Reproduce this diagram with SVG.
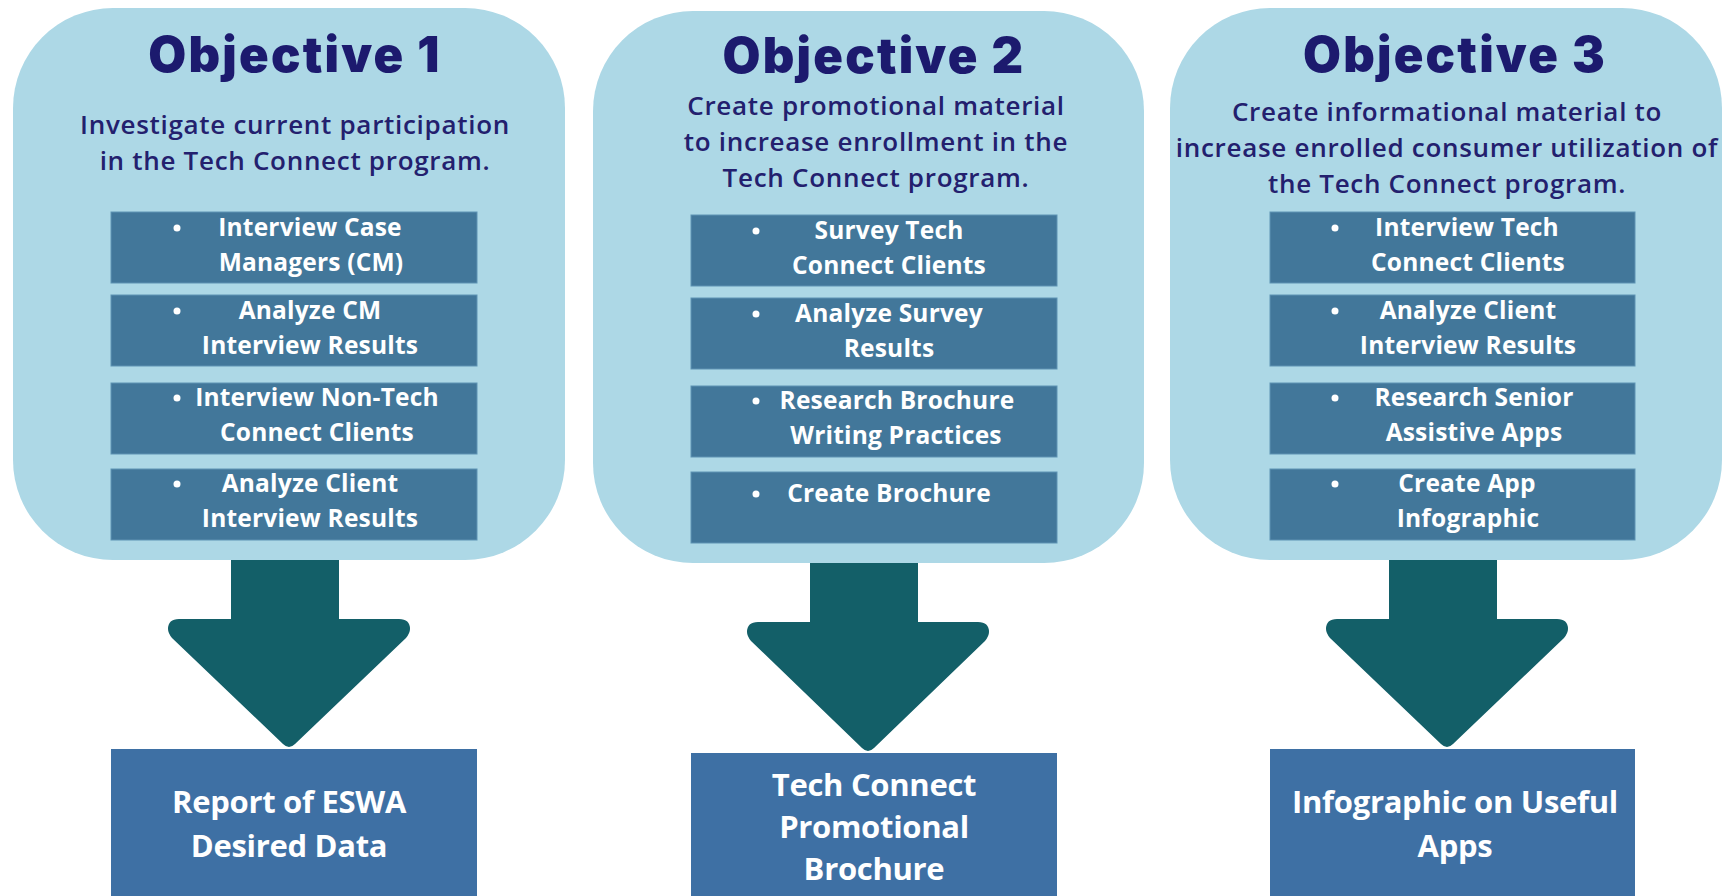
<svg xmlns="http://www.w3.org/2000/svg" width="1728" height="896" viewBox="0 0 1728 896">
<style>
.panel{fill:#ADD8E6;}
.task{fill:#42779A;stroke:#5E93B3;stroke-width:1;}
.out{fill:#3E70A4;}
.arrow{fill:#135F68;}
.title{font-family:Inter,"Liberation Sans",Arial,sans-serif;font-weight:900;font-size:49px;fill:#1C1A6E;text-anchor:middle;letter-spacing:2.2px;}
.sub{font-family:"Open Sans","Noto Sans","Liberation Sans",sans-serif;font-weight:600;font-size:26px;fill:#23206E;text-anchor:middle;letter-spacing:0.7px;}
.tt{font-family:"Open Sans","Noto Sans","Liberation Sans",sans-serif;font-weight:700;font-size:24.5px;fill:#FFFFFF;text-anchor:middle;letter-spacing:0.2px;}
.ot{font-family:"Open Sans","Noto Sans","Liberation Sans",sans-serif;font-weight:700;font-size:31px;fill:#FFFFFF;text-anchor:middle;letter-spacing:-0.3px;}
.dot{fill:#FFFFFF;}
</style>
<rect width="1728" height="896" fill="#FFFFFF"/>
<g id="connectors">
<path class="arrow" d="M231,550 L339,550 L339,619 L399,619 Q410,619 410,629 Q410,633 406,638 L295,744 Q289,750 283,744 L172,638 Q168,633 168,629 Q168,619 179,619 L231,619 Z"/>
<path class="arrow" d="M810,553 L918,553 L918,622 L978,622 Q989,622 989,632 Q989,636 985,641 L874,748 Q868,754 862,748 L751,641 Q747,636 747,632 Q747,622 758,622 L810,622 Z"/>
<path class="arrow" d="M1389,550 L1497,550 L1497,619 L1557,619 Q1568,619 1568,629 Q1568,633 1564,638 L1453,744 Q1447,750 1441,744 L1330,638 Q1326,633 1326,629 Q1326,619 1337,619 L1389,619 Z"/>
</g>
<g id="objective1">
<rect class="panel" x="13" y="8" width="552" height="552" rx="100"/>
<text class="title" x="295" y="72">Objective 1</text>
<text class="sub" x="295" y="134">Investigate current participation</text>
<text class="sub" x="295" y="170">in the Tech Connect program.</text>
</g>
<g id="task1a"><rect class="task" x="111" y="212" width="366" height="71"/><circle class="dot" cx="177" cy="228" r="3.5"/><text class="tt" x="310" y="236">Interview Case</text><text class="tt" x="311" y="271">Managers (CM)</text></g>
<g id="task1b"><rect class="task" x="111" y="295" width="366" height="71"/><circle class="dot" cx="177" cy="311" r="3.5"/><text class="tt" x="310" y="319">Analyze CM</text><text class="tt" x="310" y="354">Interview Results</text></g>
<g id="task1c"><rect class="task" x="111" y="383" width="366" height="71"/><circle class="dot" cx="177" cy="398" r="3.5"/><text class="tt" x="317" y="406">Interview Non-Tech</text><text class="tt" x="317" y="441">Connect Clients</text></g>
<g id="task1d"><rect class="task" x="111" y="469" width="366" height="71"/><circle class="dot" cx="177" cy="484" r="3.5"/><text class="tt" x="310" y="492">Analyze Client</text><text class="tt" x="310" y="527">Interview Results</text></g>
<g id="objective2">
<rect class="panel" x="593" y="11" width="551" height="552" rx="100"/>
<text class="title" x="874" y="73">Objective 2</text>
<text class="sub" x="876" y="115">Create promotional material</text>
<text class="sub" x="876" y="151">to increase enrollment in the</text>
<text class="sub" x="876" y="187">Tech Connect program.</text>
</g>
<g id="task2a"><rect class="task" x="691" y="215" width="366" height="71"/><circle class="dot" cx="756" cy="231" r="3.5"/><text class="tt" x="889" y="239">Survey Tech</text><text class="tt" x="889" y="274">Connect Clients</text></g>
<g id="task2b"><rect class="task" x="691" y="298" width="366" height="71"/><circle class="dot" cx="756" cy="314" r="3.5"/><text class="tt" x="889" y="322">Analyze Survey</text><text class="tt" x="889" y="357">Results</text></g>
<g id="task2c"><rect class="task" x="691" y="386" width="366" height="71"/><circle class="dot" cx="756" cy="401" r="3.5"/><text class="tt" x="897" y="409">Research Brochure</text><text class="tt" x="896" y="444">Writing Practices</text></g>
<g id="task2d"><rect class="task" x="691" y="472" width="366" height="71"/><circle class="dot" cx="756" cy="494" r="3.5"/><text class="tt" x="889" y="502">Create Brochure</text></g>
<g id="objective3">
<rect class="panel" x="1170" y="8" width="552" height="552" rx="100"/>
<text class="title" x="1455" y="72">Objective 3</text>
<text class="sub" x="1447" y="121">Create informational material to</text>
<text class="sub" x="1447" y="157">increase enrolled consumer utilization of</text>
<text class="sub" x="1447" y="193">the Tech Connect program.</text>
</g>
<g id="task3a"><rect class="task" x="1270" y="212" width="365" height="71"/><circle class="dot" cx="1335" cy="228" r="3.5"/><text class="tt" x="1467" y="236">Interview Tech</text><text class="tt" x="1468" y="271">Connect Clients</text></g>
<g id="task3b"><rect class="task" x="1270" y="295" width="365" height="71"/><circle class="dot" cx="1335" cy="311" r="3.5"/><text class="tt" x="1468" y="319">Analyze Client</text><text class="tt" x="1468" y="354">Interview Results</text></g>
<g id="task3c"><rect class="task" x="1270" y="383" width="365" height="71"/><circle class="dot" cx="1335" cy="398" r="3.5"/><text class="tt" x="1474" y="406">Research Senior</text><text class="tt" x="1474" y="441">Assistive Apps</text></g>
<g id="task3d"><rect class="task" x="1270" y="469" width="365" height="71"/><circle class="dot" cx="1335" cy="484" r="3.5"/><text class="tt" x="1467" y="492">Create App</text><text class="tt" x="1468" y="527">Infographic</text></g>
<g id="output1"><rect class="out" x="111" y="749" width="366" height="147"/><text class="ot" x="289" y="813">Report of ESWA</text><text class="ot" x="289" y="857">Desired Data</text></g>
<g id="output2"><rect class="out" x="691" y="753" width="366" height="143"/><text class="ot" x="874" y="796">Tech Connect</text><text class="ot" x="874" y="838">Promotional</text><text class="ot" x="874" y="880">Brochure</text></g>
<g id="output3"><rect class="out" x="1270" y="749" width="365" height="147"/><text class="ot" x="1455" y="813">Infographic on Useful</text><text class="ot" x="1455" y="857">Apps</text></g>
</svg>
